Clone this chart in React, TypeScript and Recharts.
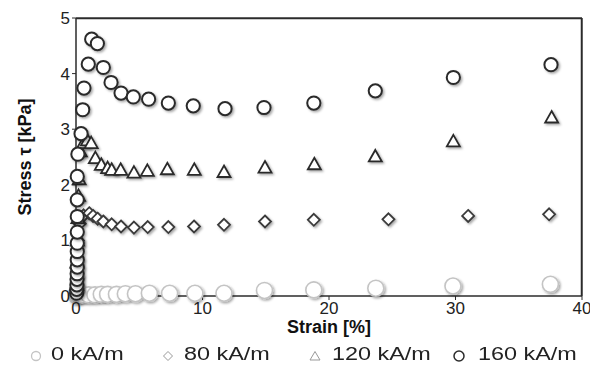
import { ScatterChart, Scatter, XAxis, YAxis, ReferenceLine } from 'recharts'

// 0 kA/m
const strain0 = [0.05, 0.08, 0.1, 0.12, 0.5, 1, 1.5, 2, 2.5, 3.2, 3.9, 4.7, 5.8, 7.4, 9.4, 11.7, 14.9, 18.8, 23.7, 29.8, 37.5]
const stress0 = [0.0, 0.03, 0.06, 0.09, 0.02, 0.02, 0.02, 0.03, 0.03, 0.03, 0.04, 0.04, 0.05, 0.05, 0.05, 0.05, 0.1, 0.11, 0.14, 0.18, 0.21]

// 80 kA/m
const strain80 = [0.05, 0.08, 0.1, 0.15, 0.3, 0.6, 1.05, 1.35, 1.71, 2.16, 2.82, 3.56, 4.58, 5.67, 7.3, 9.33, 11.7, 14.94, 18.8, 24.7, 31.0, 37.4]
const stress80 = [0.1, 0.35, 0.65, 1.0, 1.3, 1.45, 1.49, 1.44, 1.39, 1.34, 1.29, 1.25, 1.23, 1.24, 1.24, 1.25, 1.28, 1.34, 1.37, 1.38, 1.44, 1.47]

// 120 kA/m
const strain120 = [0.05, 0.07, 0.1, 0.15, 0.2, 0.25, 0.34, 0.6, 0.9, 1.2, 1.53, 2.0, 2.5, 2.82, 3.53, 4.58, 5.64, 7.22, 9.35, 11.7, 14.94, 18.84, 23.66, 29.83, 37.6]
const stress120 = [0.2, 0.6, 1.0, 1.4, 1.8, 2.1, 2.6, 2.75, 2.8, 2.75, 2.48, 2.36, 2.3, 2.27, 2.27, 2.22, 2.25, 2.28, 2.27, 2.23, 2.31, 2.37, 2.51, 2.78, 3.21]

// 160 kA/m
const strain160 = [0.05, 0.06, 0.07, 0.08, 0.09, 0.1, 0.1, 0.1, 0.1, 0.1, 0.1, 0.1, 0.1, 0.15, 0.4, 0.53, 0.63, 0.97, 1.24, 1.69, 2.16, 2.77, 3.56, 4.53, 5.74, 7.3, 9.27, 11.78, 14.86, 18.8, 23.66, 29.83, 37.55]
const stress160 = [0.05, 0.12, 0.2, 0.3, 0.4, 0.52, 0.65, 0.8, 0.95, 1.15, 1.43, 1.73, 2.15, 2.55, 2.92, 3.35, 3.74, 4.17, 4.62, 4.54, 4.11, 3.84, 3.65, 3.58, 3.54, 3.47, 3.42, 3.37, 3.39, 3.47, 3.69, 3.93, 4.16]

const xTicks = [0, 10, 20, 30, 40]
const yTicks = [0, 1, 2, 3, 4, 5]
const seriesNames = ['0 kA/m', '80 kA/m', '120 kA/m', '160 kA/m']

const toPoints = (xs: number[], ys: number[]) => xs.map((x, i) => ({ x, y: ys[i] }))

const font = '"Liberation Sans", Arial, sans-serif'
const dark = '#2b2b2b'

const W = 598
const H = 391
const margin = { top: 18, right: 16, bottom: 45, left: 26 }

const lightCircle = (p: any) => (
  <circle cx={p.cx} cy={p.cy} r={8} fill="#fff" stroke="#c4c4c4" strokeWidth={1.6} filter="url(#shadow)" />
)
const darkCircle = (p: any) => (
  <circle cx={p.cx} cy={p.cy} r={6.6} fill="#fff" stroke={dark} strokeWidth={2} filter="url(#shadow)" />
)
const diamond = (p: any) => (
  <path d={`M${p.cx},${p.cy - 6}L${p.cx + 6},${p.cy}L${p.cx},${p.cy + 6}L${p.cx - 6},${p.cy}Z`} fill="#fff" stroke="#3a3a3a" strokeWidth={1.8} filter="url(#shadow)" />
)
const triangle = (p: any) => (
  <path d={`M${p.cx},${p.cy - 6.5}L${p.cx + 6.5},${p.cy + 5}L${p.cx - 6.5},${p.cy + 5}Z`} fill="#fff" stroke={dark} strokeWidth={1.8} filter="url(#shadow)" />
)

function LegendIcon({ i }: { i: number }) {
  return (
    <svg width={14} height={14} style={{ position: 'absolute', left: 0, top: 5 }}>
      {i === 0 && <circle cx={7} cy={7} r={4.5} fill="#fff" stroke="#c4c4c4" strokeWidth={1.3} />}
      {i === 1 && <path d="M7,2.5L11.5,7L7,11.5L2.5,7Z" fill="#fff" stroke="#999" strokeWidth={1} />}
      {i === 2 && <path d="M7,2.5L12,11L2,11Z" fill="#fff" stroke="#999" strokeWidth={1} />}
      {i === 3 && <circle cx={7} cy={7} r={5} fill="#fff" stroke={dark} strokeWidth={1.5} />}
    </svg>
  )
}

export default function App() {
  const legendIconLeft = [29, 161, 308, 452]
  const legendTextLeft = [51, 184, 332, 478]
  return (
    <div style={{ position: 'relative', margin: -8, width: W, height: H, background: '#fff', fontFamily: font }}>
      <svg width={0} height={0} style={{ position: 'absolute' }}>
        <defs>
          <filter id="shadow" x="-50%" y="-50%" width="200%" height="200%">
            <feDropShadow dx={1.5} dy={1.5} stdDeviation={1} floodColor="#000" floodOpacity={0.35} />
          </filter>
        </defs>
      </svg>
      <ScatterChart width={W} height={H} margin={margin}>
        <XAxis
          type="number"
          dataKey="x"
          domain={[0, 40]}
          ticks={xTicks}
          height={50}
          tickSize={4}
          axisLine={{ stroke: dark, strokeWidth: 1.5 }}
          tickLine={{ stroke: dark }}
          tick={{ fill: '#222', fontSize: 17, fontFamily: font }}
          label={{ value: 'Strain [%]', position: 'insideBottom', offset: 13, fill: '#111', fontSize: 18, fontWeight: 'bold', fontFamily: font }}
        />
        <YAxis
          type="number"
          dataKey="y"
          domain={[0, 5]}
          ticks={yTicks}
          width={50}
          tickSize={4}
          axisLine={{ stroke: dark, strokeWidth: 1.5 }}
          tickLine={{ stroke: dark }}
          tick={{ fill: '#222', fontSize: 17, fontFamily: font }}
          label={{ value: 'Stress τ [kPa]', angle: -90, position: 'insideLeft', offset: -1, style: { textAnchor: 'middle' }, fill: '#111', fontSize: 18, fontWeight: 'bold', fontFamily: font }}
        />
        {/* frame: top and right edges of the plot */}
        <ReferenceLine y={4.995} stroke={dark} strokeWidth={2} ifOverflow="visible" />
        <ReferenceLine x={39.98} stroke={dark} strokeWidth={2} ifOverflow="visible" />
        <Scatter name={seriesNames[0]} data={toPoints(strain0, stress0)} shape={lightCircle} isAnimationActive={false} />
        <Scatter name={seriesNames[1]} data={toPoints(strain80, stress80)} shape={diamond} isAnimationActive={false} />
        <Scatter name={seriesNames[2]} data={toPoints(strain120, stress120)} shape={triangle} isAnimationActive={false} />
        <Scatter name={seriesNames[3]} data={toPoints(strain160, stress160)} shape={darkCircle} isAnimationActive={false} />
      </ScatterChart>
      <div style={{ position: 'absolute', top: 344, left: 0, width: W, height: 24, fontSize: 18, color: '#222' }}>
        {seriesNames.map((n, i) => (
          <div key={n}>
            <div style={{ position: 'absolute', left: legendIconLeft[i], top: 0, width: 14, height: 24 }}>
              <LegendIcon i={i} />
            </div>
            <span style={{ position: 'absolute', left: legendTextLeft[i], top: 0, whiteSpace: 'nowrap', transform: 'scaleX(1.3)', transformOrigin: 'left center' }}>
              {n}
            </span>
          </div>
        ))}
      </div>
    </div>
  )
}
